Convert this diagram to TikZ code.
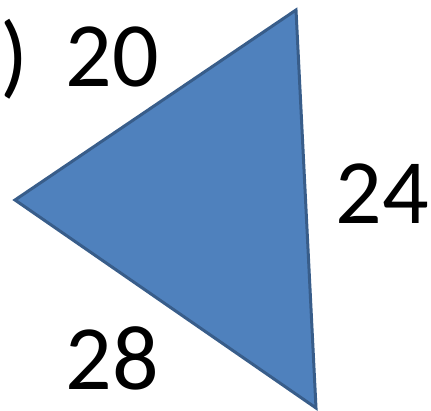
\documentclass[tikz,border=0pt]{standalone}
\usepackage{fontspec}
\setmainfont{Carlito}
\usetikzlibrary{positioning,calc}
\definecolor{trifill}{HTML}{4F81BD}
\definecolor{triedge}{HTML}{385D8A}
\definecolor{ink}{HTML}{000000}

\begin{document}
\begin{tikzpicture}[
  x=1pt, y=1pt, line join=miter,
  side/.style={font=\fontsize{92}{92}\selectfont, text=ink, inner sep=0pt},
  tri/.style={fill=trifill, draw=triedge, line width=3pt}]
\useasboundingbox (0,0) rectangle (431,411);

% ---------------------------------------------------------------- triangle
\coordinate (vl) at (15,211);
\coordinate (vt) at (296,401);
\coordinate (vb) at (316,3);
\draw[tri] (vl) -- (vt) -- (vb) -- cycle;

% ---------------------------------------------------------------- side lengths
\node[side] (top) at (112,354) {20};
\node[side] (right) at (382,217) {24};
\node[side] (bottom) at (112,53) {28};
\node[side, anchor=base] (paren) at (14,324) {)};

\end{tikzpicture}
\end{document}
